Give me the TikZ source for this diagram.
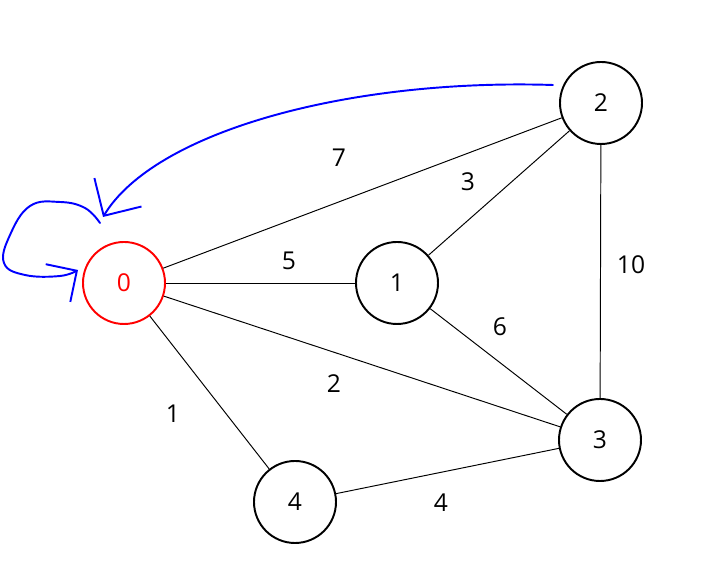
\documentclass[tikz,border=0pt]{standalone}
\usepackage{fontspec}
\setmainfont{Open Sans}
\usetikzlibrary{positioning,calc,arrows,arrows.meta}
\tikzset{font=\fontsize{14}{16}\selectfont}
\tikzset{
	vertex/.style={circle, draw, line width=1.1pt, minimum size=1.64cm, inner sep=0pt},
	edge/.style={line width=0.55pt},
	mark blue/.style={blue, line width=1.1pt, line cap=round, line join=round},
}

\begin{document}
\begin{tikzpicture}
	\useasboundingbox (0, 0) rectangle (14.34, 11.32);
	\begin{scope}
		\node[vertex, red] (v0) at (2.48, 5.66) {0};
		\node[vertex] (v1) at (7.94, 5.66) {1};
		\node[vertex] (v2) at (12.02, 9.26) {2};
		\node[vertex] (v3) at (12.00, 2.52) {3};
		\node[vertex] (v4) at (5.90, 1.28) {4};

		\draw[edge] (v0) -- (v2);
		\draw[edge] (v0) -- (v1);
		\draw[edge] (v0) -- (v3);
		\draw[edge] (v0) -- (v4);
		\draw[edge] (v1) -- (v2);
		\draw[edge] (v1) -- (v3);
		\draw[edge] (v2) -- (v3);
		\draw[edge] (v3) -- (v4);

		% weights
		\tikzstyle{every node}=[align=center, inner sep=1pt]
		\node (w02) at (6.78, 8.16) {7};
		\node (w12) at (9.36, 7.68) {3};
		\node (w01) at (5.78, 6.10) {5};
		\node (w23) at (12.62, 6.02) {10};
		\node (w13) at (10.00, 4.78) {6};
		\node (w03) at (6.68, 3.64) {2};
		\node (w04) at (3.46, 3.04) {1};
		\node (w34) at (8.82, 1.26) {4};
	\end{scope}

	% hand drawn marks
	\coordinate (from2) at (11.06, 9.62);
	\coordinate (to0) at (2.06, 6.98);
	\coordinate (loop0) at (1.56, 5.92);
	\draw[mark blue, -{Straight Barb[length=5.5mm, width=11mm]}]
		(from2) .. controls (7.0, 9.75) and (3.1, 8.7) .. (to0);
	\draw[mark blue, -{Straight Barb[length=4.5mm, width=9mm]}]
		plot[smooth, tension=0.7] coordinates {(2.0, 6.86) (1.7, 7.16) (1.2, 7.28) (0.6, 7.2) (0.2, 6.62) (0.08, 6.06) (0.5, 5.82) (1.2, 5.8) (1.56, 5.92)};
\end{tikzpicture}
\end{document}
